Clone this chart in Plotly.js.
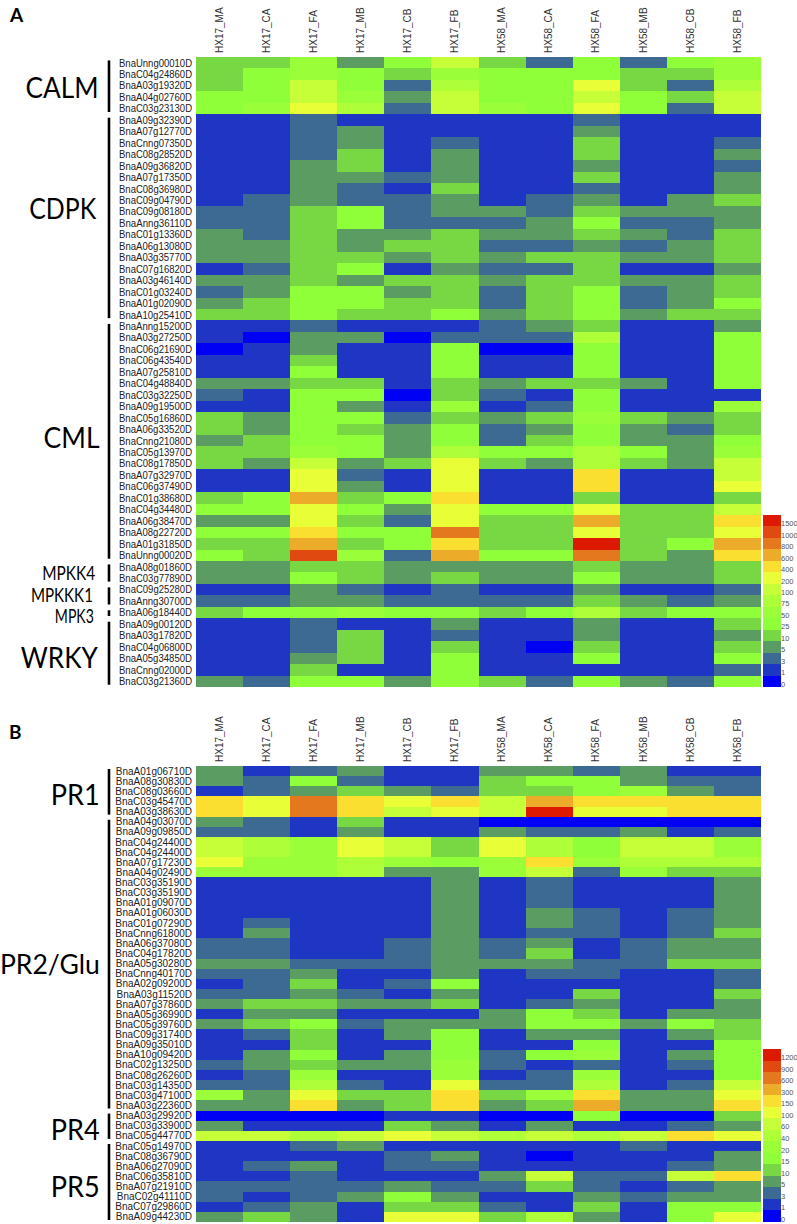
<!DOCTYPE html>
<html><head><meta charset="utf-8">
<script src="https://cdn.plot.ly/plotly-3.0.1.min.js"></script>
<style>html,body{margin:0;padding:0;background:#fff}#c{width:797px;height:1224px}</style>
</head><body><div id="c"></div>
<script>
const columns=["HX17_MA","HX17_CA","HX17_FA","HX17_MB","HX17_CB","HX17_FB","HX58_MA","HX58_CA","HX58_FA","HX58_MB","HX58_CB","HX58_FB"];
const colors=["#0000f4","#1f36c4","#3d6a93","#5a9c61","#78d843","#8eff38","#9aff38","#aeff38","#c6ff38","#e8ff38","#fade30","#edab2a","#e4781f","#e04a10","#dd1a00"];
const levelsA=[0,1,3,5,10,25,50,75,100,200,400,600,800,1000,1500];
const levelsB=[0,1,3,5,10,15,20,40,60,100,150,300,600,900,1200];
const genesA=["BnaUnng00010D","BnaC04g24860D","BnaA03g19320D","BnaA04g02760D","BnaC03g23130D",
"BnaA09g32390D","BnaA07g12770D","BnaCnng07350D","BnaC08g28520D","BnaA09g36820D","BnaA07g17350D","BnaC08g36980D","BnaC09g04790D","BnaC09g08180D","BnaAnng36110D","BnaC01g13360D","BnaA06g13080D","BnaA03g35770D","BnaC07g16820D","BnaA03g46140D","BnaC01g03240D","BnaA01g02090D","BnaA10g25410D",
"BnaAnng15200D","BnaA03g27250D","BnaC06g21690D","BnaC06g43540D","BnaA07g25810D","BnaC04g48840D","BnaC03g32250D","BnaA09g19500D","BnaC05g16860D","BnaA06g33520D","BnaCnng21080D","BnaC05g13970D","BnaC08g17850D","BnaA07g32970D","BnaC06g37490D","BnaC01g38680D","BnaC04g34480D","BnaA06g38470D","BnaA08g22720D","BnaA01g31850D","BnaUnng00020D",
"BnaA08g01860D","BnaC03g77890D","BnaC09g25280D","BnaAnng30700D","BnaA06g18440D",
"BnaA09g00120D","BnaA03g17820D","BnaC04g06800D","BnaA05g34850D","BnaCnng02000D","BnaC03g21360D"];
const valuesA=[
[10,10,50,5,25,100,10,3,25,3,25,50],[10,25,50,25,10,50,25,25,25,10,10,50],[10,25,100,25,3,75,25,25,200,10,3,75],[25,25,100,50,5,100,25,25,100,25,10,100],[25,50,200,75,3,100,50,25,200,25,3,100],
[1,1,3,1,1,1,1,1,3,1,1,1],[1,1,3,5,1,1,1,1,5,1,1,1],[1,1,3,5,1,3,1,1,10,1,1,3],[1,1,3,10,1,5,1,1,10,1,1,5],[1,1,5,10,1,5,1,1,5,1,1,3],[1,1,5,5,3,5,1,1,10,1,1,5],[1,1,5,3,1,10,1,1,3,1,1,5],[1,3,5,3,3,5,1,3,5,1,5,10],[3,3,10,25,3,5,5,3,10,5,5,5],[3,3,10,25,3,3,3,5,25,3,3,5],[5,3,10,5,5,10,5,5,10,5,3,10],[5,5,10,5,10,10,3,3,5,3,5,10],[5,5,10,10,5,10,5,10,10,5,5,10],[1,3,10,25,1,5,3,3,10,1,1,5],[5,5,10,5,10,10,5,10,10,5,5,10],[3,5,25,25,5,10,3,10,25,3,5,10],[5,10,25,25,10,10,3,10,25,3,5,25],[10,10,25,10,10,25,5,10,25,5,10,10],
[1,1,3,1,1,1,3,5,10,1,1,5],[1,0,5,5,0,3,3,3,75,1,1,25],[0,1,5,1,1,25,0,0,25,1,1,25],[1,1,10,1,1,25,1,1,25,1,1,25],[1,1,25,1,1,25,1,1,25,1,1,25],[5,5,10,10,1,10,5,10,10,5,1,25],[3,1,25,25,0,10,3,1,25,1,1,1],[1,1,25,5,1,50,1,3,25,1,1,50],[10,5,25,25,3,10,5,10,50,10,5,10],[10,5,25,10,5,25,3,5,25,5,3,10],[5,10,25,25,5,25,3,10,25,5,5,25],[10,10,50,25,5,75,25,25,75,25,5,50],[10,5,100,5,10,200,10,5,75,10,5,100],[1,1,200,3,1,200,1,1,400,1,1,100],[1,1,200,5,1,200,1,1,400,1,1,200],[10,25,600,10,25,400,1,1,10,1,1,10],[25,25,200,25,5,200,25,25,200,10,10,100],[5,5,200,10,3,200,10,10,600,10,10,400],[25,25,400,25,25,800,10,10,200,10,10,200],[10,10,600,10,25,400,10,10,1500,10,25,600],[25,10,1000,50,3,600,25,25,800,10,5,400],
[5,5,10,10,5,5,5,5,10,5,5,10],[5,5,25,10,5,10,5,5,25,5,5,10],[1,1,5,3,1,3,1,1,5,1,1,3],[3,3,5,5,3,3,3,3,10,5,3,5],[10,25,25,50,25,25,10,25,75,10,25,25],
[1,1,3,1,1,5,1,1,5,1,1,10],[1,1,3,10,1,3,1,1,5,1,1,5],[1,1,3,10,1,10,1,0,10,1,1,10],[1,1,5,10,1,25,1,1,25,1,1,25],[1,1,10,1,1,25,1,1,1,1,1,3],[5,3,25,25,5,25,10,3,25,5,3,25]];
const genesB=["BnaA01g06710D","BnaA08g30830D","BnaC08g03660D","BnaC03g45470D","BnaA03g38630D",
"BnaA04g03070D","BnaA09g09850D","BnaC04g24400D","BnaC04g24400D","BnaA07g17230D","BnaA04g02490D","BnaC03g35190D","BnaC03g35190D","BnaA01g09070D","BnaA01g06030D","BnaC01g07290D","BnaCnng61800D","BnaA06g37080D","BnaC04g17820D","BnaA05g30280D","BnaCnng40170D","BnaA02g09200D","BnaA03g11520D","BnaA07g37860D","BnaA05g36990D","BnaC05g39760D","BnaC09g31740D","BnaA09g35010D","BnaA10g09420D","BnaC02g13250D","BnaC08g26260D","BnaC03g14350D","BnaC03g47100D","BnaA03g22360D",
"BnaA03g29920D","BnaC03g33900D","BnaC05g44770D",
"BnaC05g14970D","BnaC08g36790D","BnaA06g27090D","BnaC06g35810D","BnaA07g21910D","BnaC02g41110D","BnaC07g29860D","BnaA09g44230D"];
const valuesB=[
[5,1,3,5,1,1,5,5,3,5,1,1],[5,3,15,3,1,1,10,15,15,5,3,3],[1,3,5,10,5,3,10,10,15,20,5,3],[150,100,600,150,100,150,60,300,150,150,150,150],[150,100,600,150,60,100,60,1200,100,100,150,150],
[5,3,1,10,1,1,0,0,0,0,0,0],[3,3,1,5,1,1,5,3,3,5,1,3],[60,40,20,100,60,10,100,40,15,60,60,20],[60,40,20,100,60,10,100,40,15,60,60,20],[100,20,20,40,20,15,20,150,20,40,40,40],[20,20,20,40,5,5,20,60,3,20,10,10],[1,1,1,1,1,5,1,3,1,1,1,5],[1,1,1,1,1,5,1,3,1,1,1,5],[1,1,1,1,1,5,1,3,1,1,1,5],[1,1,1,1,1,5,1,5,3,1,3,5],[1,3,1,1,1,5,1,5,3,1,3,5],[1,5,1,1,1,5,1,3,3,1,3,10],[3,3,1,1,3,5,3,5,1,3,5,5],[3,3,1,1,3,5,3,10,1,3,5,5],[5,5,3,3,3,5,5,5,3,3,10,10],[3,3,5,1,1,5,1,3,3,1,1,3],[1,3,10,1,3,15,1,1,1,1,1,3],[3,3,5,3,1,5,1,1,10,1,1,10],[5,10,10,5,5,10,1,3,5,1,1,5],[1,5,5,1,1,1,5,15,10,1,5,5],[5,10,15,3,5,5,5,15,15,5,15,10],[1,3,10,1,5,15,1,5,5,1,5,10],[1,1,10,1,1,15,1,1,15,1,1,15],[1,5,15,1,5,15,3,15,20,1,5,15],[3,5,10,5,5,20,3,1,3,1,3,15],[1,3,20,1,1,20,1,3,20,1,1,15],[3,3,40,3,1,100,3,3,40,1,3,60],[20,5,100,10,10,150,10,20,150,5,5,100],[5,5,150,5,10,150,5,10,300,5,5,150],
[0,0,0,0,1,1,0,0,15,0,0,10],[5,1,1,1,10,5,1,5,1,1,3,5],[60,60,40,60,100,60,40,60,40,60,150,100],
[1,1,3,5,1,1,1,1,1,3,1,1],[1,1,1,1,3,5,1,0,1,1,1,5],[1,3,5,1,3,3,1,1,1,1,3,5],[1,1,3,1,1,1,5,60,3,3,60,150],[3,3,3,3,5,3,3,10,3,1,3,5],[3,1,3,5,15,5,1,1,5,3,5,5],[1,3,5,1,10,10,3,1,10,1,15,15],[5,10,5,1,100,100,10,40,5,1,15,100]];
const groupNamesA=["CALM","CDPK","CML","MPKK4","MPKKK1","MPK3","WRKY"];
const groupRowsA=[5,18,21,2,2,1,6];
const groupNamesB=["PR1","PR2/Glu","PR4","PR5"];
const groupRowsB=[5,29,3,8];

// layout (pixels) kept apart from the data
const labelStyleA=[[87,28,73],[208,28,67],[437,28,56],[572,19,53],[594,19,62],[615,19,39],[657,28,77]];
const labelStyleB=[[793,29,49],[963,27,100],[1128,29,49],[1185,29,49]];
const W=797,H=1224;
const panelA={x0:196,x1:761,y0:57,y1:687,cy0:515,cy1:687,letter:"A",ly:15,gf:11};
const panelB={x0:196,x1:761,y0:766,y1:1222,cy0:1049,cy1:1222,letter:"B",ly:731,gf:10};
const scale=[];colors.forEach((c,i)=>{scale.push([i/15,c]);scale.push([(i+1)/15,c]);});
const layout={width:W,height:H,margin:{l:0,r:0,t:0,b:0},paper_bgcolor:"#fff",plot_bgcolor:"#fff",showlegend:false,annotations:[],shapes:[]};
const traces=[];
const squeeze={};
function panel(p,genes,vals,levels,names,rows,style,s){
  const k=s===1?"":s,k2=s+1;
  const xa="x"+k,ya="y"+k,xb="x"+k2,yb="y"+k2;
  traces.push({type:"heatmap",xaxis:xa,yaxis:ya,
    z:vals.map(r=>r.map(v=>levels.indexOf(v))),x:columns.map((c,i)=>i),y:genes.map((g,i)=>i),
    zmin:-0.5,zmax:14.5,colorscale:scale,showscale:false,zsmooth:false,hoverinfo:"skip"});
  traces.push({type:"heatmap",xaxis:xb,yaxis:yb,z:levels.map((v,i)=>[i]),x:[0],y:levels.map((v,i)=>i),
    zmin:-0.5,zmax:14.5,colorscale:scale,showscale:false,hoverinfo:"skip"});
  layout["xaxis"+k]={domain:[p.x0/W,p.x1/W],range:[-0.5,11.5],side:"top",anchor:ya,tickmode:"array",tickvals:columns.map((c,i)=>i),ticktext:columns,tickangle:-90,
    tickfont:{family:"Liberation Sans",size:10,color:"#333"},ticks:"",showgrid:false,zeroline:false,showline:false,ticklabelstandoff:3};
  layout["yaxis"+k]={domain:[1-p.y1/H,1-p.y0/H],range:[genes.length-0.5,-0.5],anchor:xa,tickmode:"array",tickvals:genes.map((g,i)=>i),ticktext:genes,
    tickfont:{family:"Liberation Sans",size:p.gf,color:"#222"},ticks:"",showgrid:false,zeroline:false,showline:false,ticklabelstandoff:3};
  layout["xaxis"+k2]={domain:[763/W,781/W],range:[-0.5,0.5],anchor:yb,visible:false,showgrid:false,zeroline:false};
  layout["yaxis"+k2]={domain:[1-p.cy1/H,1-p.cy0/H],range:[-0.5,14.5],anchor:xb,side:"right",tickmode:"array",tickvals:levels.map((v,i)=>i-0.25),ticktext:levels.map(String),
    tickfont:{family:"Liberation Sans",size:7.5,color:"#555"},ticks:"",showgrid:false,zeroline:false,showline:false,ticklabelstandoff:-1};
  let start=0;
  names.forEach((n,i)=>{
    const end=start+rows[i]-1;
    layout.shapes.push({type:"line",xref:"paper",yref:ya,x0:109/W,x1:109/W,y0:start-0.5+0.3,y1:end+0.5-0.2,line:{color:"#000",width:2.6}});
    layout.annotations.push({text:n,xref:"paper",yref:"paper",x:103/W,y:1-style[i][0]/H,xanchor:"right",yanchor:"middle",showarrow:false,
      font:{family:"Lato",size:style[i][1],color:"#000"}});
    squeeze[n]=style[i][2];
    start=end+1;
  });
  layout.annotations.push({text:"<b>"+p.letter+"</b>",xref:"paper",yref:"paper",x:7/W,y:1-p.ly/H,xanchor:"left",yanchor:"middle",showarrow:false,font:{family:"Lato",size:19,color:"#000"}});
}
panel(panelA,genesA,valuesA,levelsA,groupNamesA,groupRowsA,labelStyleA,1);
panel(panelB,genesB,valuesB,levelsB,groupNamesB,groupRowsB,labelStyleB,3);
Plotly.newPlot("c",traces,layout,{staticPlot:true,displayModeBar:false}).then(gd=>{
  // The reference's gene labels are horizontally condensed.
  const fit=(el,w)=>{el.setAttribute("textLength",w);el.setAttribute("lengthAdjust","spacingAndGlyphs");};
  gd.querySelectorAll(".ytick text").forEach(t=>{
    if(/^Bna/.test(t.textContent)) fit(t,73);
  });
  gd.querySelectorAll(".annotation-text").forEach(t=>{
    const w=squeeze[t.textContent]; if(w) fit(t,w);
  });
});
</script></body></html>
